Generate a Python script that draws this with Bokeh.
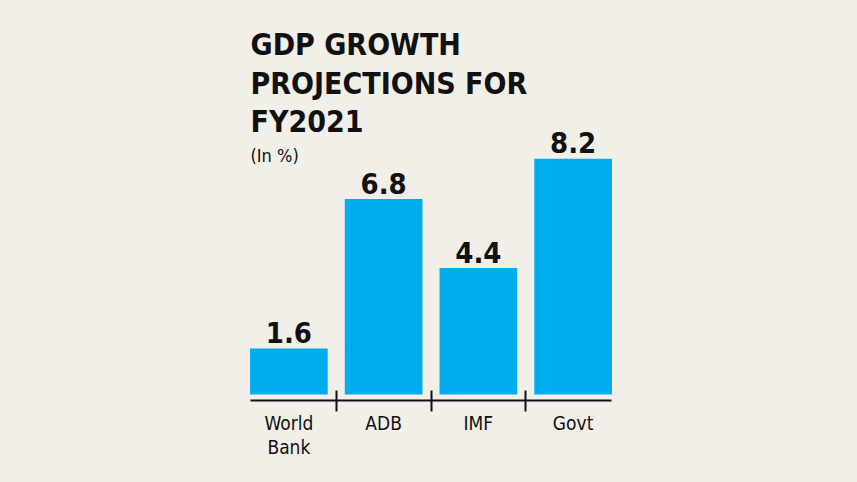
from bokeh.plotting import figure
from bokeh.models import FixedTicker, Range1d, ColumnDataSource, Label
from bokeh.core.properties import value
from bokeh.embed import file_html
from bokeh.resources import INLINE

categories = ["World\nBank", "ADB", "IMF", "Govt"]
values = [1.6, 6.8, 4.4, 8.2]
value_labels = ["1.6", "6.8", "4.4", "8.2"]
title_lines = ["GDP GROWTH", "PROJECTIONS FOR", "FY2021"]
subtitle = "(In %)"

BG = "#f2efe8"
BLUE = "#00aeef"
FONT = "DejaVu Sans Condensed"

W, H = 841, 466
left, frame_w = 241, 379
frame_bottom = 400
frame_h = frame_bottom
ppu_y = 28.75
y0 = -6 / ppu_y
y1 = y0 + frame_h / ppu_y

p = figure(width=W, height=H, output_backend="svg", toolbar_location=None, title=None,
           x_range=Range1d(-0.5, 3.5), y_range=Range1d(y0, y1),
           min_border_left=left, min_border_right=W - left - frame_w,
           min_border_top=0, min_border_bottom=H - frame_bottom,
           background_fill_color=BG, border_fill_color=BG, outline_line_color=None)
p.grid.visible = False
p.yaxis.visible = False

xs = list(range(len(categories)))
src = ColumnDataSource(dict(x=xs, top=values, lab=value_labels))
p.vbar(x="x", top="top", bottom=0, width=0.82, color=BLUE, line_color=None, source=src)
p.text(x="x", y="top", text="lab", source=src, y_offset=-16,
       text_font=value(FONT), text_font_style="bold", text_font_size="29px",
       text_align="center", text_baseline="alphabetic", text_color="#111111")

ax = p.xaxis[0]
ax.ticker = FixedTicker(ticks=xs, minor_ticks=[0.5, 1.5, 2.5])
ax.major_label_overrides = {i: c for i, c in enumerate(categories)}
ax.bounds = (-0.4, 3.4)
ax.axis_line_width = 2
ax.axis_line_color = "#111111"
ax.major_tick_line_color = None
ax.minor_tick_in = 10
ax.minor_tick_out = 11
ax.minor_tick_line_width = 2
ax.minor_tick_line_color = "#111111"
ax.major_label_text_font = FONT
ax.major_label_text_font_size = "19px"
ax.major_label_text_color = "#111111"
ax.major_label_text_line_height = 1.1
ax.major_label_standoff = 0

def px_x(page_x):
    return (page_x - left) / (frame_w / 4.0) - 0.5

def px_y(page_y):
    return (frame_bottom - 6 - page_y) / ppu_y

for line, base in zip(title_lines, [44, 83, 121]):
    p.add_layout(Label(x=px_x(250), y=px_y(base), text=line, text_font=FONT,
                       text_font_style="bold", text_font_size="30px",
                       text_color="#111111", text_baseline="alphabetic"))
p.add_layout(Label(x=px_x(250), y=px_y(155), text=subtitle, text_font=FONT,
                   text_font_size="18px", text_color="#111111",
                   text_baseline="alphabetic"))

html = file_html(p, INLINE)
html = html.replace("</head>", "<style>html,body{background:%s;}</style></head>" % BG, 1)
open("out.html", "w").write(html)
